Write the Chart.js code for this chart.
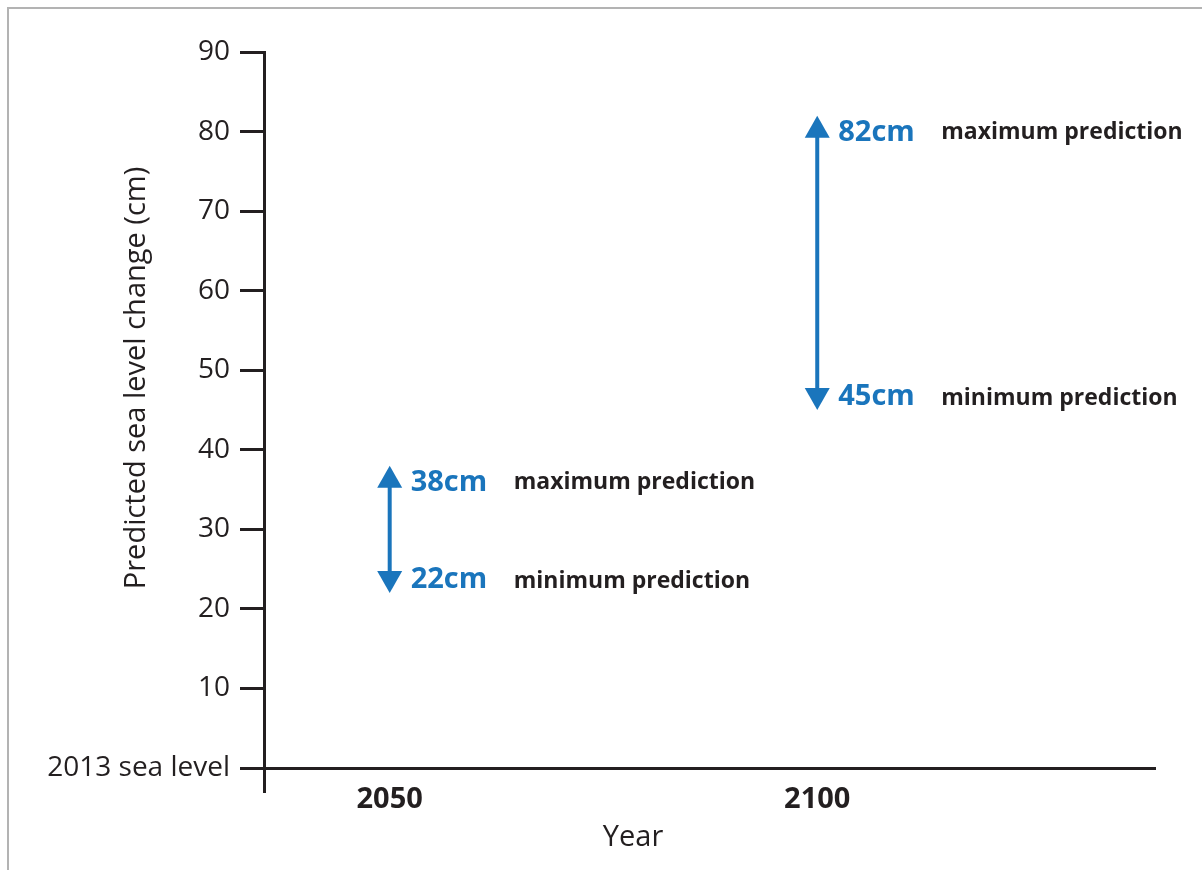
<!DOCTYPE html>
<html>
<head>
<meta charset="utf-8">
<title>Predicted sea level change</title>
<script src="https://cdn.jsdelivr.net/npm/chart.js@4.4.1/dist/chart.umd.min.js"></script>
<style>
  html, body { margin: 0; padding: 0; background: #fff; }
  #wrap { position: relative; width: 1202px; height: 870px; }
  #frame { position: absolute; left: 7px; top: 7px; right: 0; bottom: 0;
           border-top: 2px solid #b3b3b3; border-left: 2px solid #b3b3b3; }
  canvas { position: absolute; left: 0; top: 0; }
</style>
</head>
<body>
<div id="wrap">
  <div id="frame"></div>
  <canvas id="myChart" width="1202" height="870"></canvas>
</div>
<script>
// data
const years = [2050, 2100];
const minPrediction = [22, 45];
const maxPrediction = [38, 82];
const yTickValues = [0, 10, 20, 30, 40, 50, 60, 70, 80, 90];
const baseLabel = '2013 sea level';
const maxText = 'maximum prediction';
const minText = 'minimum prediction';
const xTitle = 'Year';
const yTitle = 'Predicted sea level change (cm)';

const dark = '#231f20';
const blue = '#1a75bc';
const font = '"Open Sans", "Noto Sans", sans-serif';

const X_MIN = 2035.3;
const X_MAX = 2139.5;

// arrows + labels, placed with the chart's own scales
const arrowPlugin = {
    id: 'arrows',
    afterDatasetsDraw(chart) {
        const c = chart.ctx;
        const headW = 25, headH = 22;
        chart.data.datasets.forEach((ds, i) => {
            const pts = chart.getDatasetMeta(i).data;
            const x = pts[0].x;
            const yLow = pts[0].y;
            const yHigh = pts[1].y;
            c.save();
            c.strokeStyle = blue;
            c.fillStyle = blue;
            c.lineWidth = 4;
            c.beginPath();
            c.moveTo(x, yLow - headH + 1);
            c.lineTo(x, yHigh + headH - 1);
            c.stroke();

            c.beginPath();
            c.moveTo(x, yHigh);
            c.lineTo(x - headW / 2, yHigh + headH);
            c.lineTo(x + headW / 2, yHigh + headH);
            c.closePath();
            c.fill();

            c.beginPath();
            c.moveTo(x, yLow);
            c.lineTo(x - headW / 2, yLow - headH);
            c.lineTo(x + headW / 2, yLow - headH);
            c.closePath();
            c.fill();

            c.textAlign = 'left';
            c.textBaseline = 'middle';
            c.font = 'bold 29px ' + font;
            c.fillText(maxPrediction[i] + 'cm', x + 21, yHigh + 17);
            c.fillText(minPrediction[i] + 'cm', x + 21, yLow - 13);

            c.fillStyle = dark;
            c.font = 'bold 23px ' + font;
            c.fillText(maxText, x + 124, yHigh + 17);
            c.fillText(minText, x + 124, yLow - 12);
            c.restore();
        });
    }
};

// axis titles sit off-centre in the original, so draw them here
const titlePlugin = {
    id: 'titles',
    afterDraw(chart) {
        const c = chart.ctx;
        const area = chart.chartArea;
        c.save();
        c.fillStyle = dark;
        c.font = '29px ' + font;
        c.textAlign = 'center';
        c.textBaseline = 'middle';
        c.fillText(xTitle, area.left + 369, area.bottom + 70);
        c.translate(137, area.top + 326);
        c.rotate(-Math.PI / 2);
        c.fillText(yTitle, 0, 0);
        c.restore();
    }
};

const ctx = document.getElementById('myChart');

const myChart = new Chart(ctx, {
    type: 'line',
    data: {
        datasets: years.map((yr, i) => ({
            data: [{x: yr, y: minPrediction[i]}, {x: yr, y: maxPrediction[i]}],
            showLine: false,
            pointRadius: 0,
            borderColor: blue
        }))
    },
    options: {
        responsive: false,
        animation: false,
        layout: { padding: { left: 0, top: 52, right: 47, bottom: 0 } },
        plugins: {
            legend: { display: false },
            tooltip: { enabled: false }
        },
        scales: {
            x: {
                type: 'linear',
                min: X_MIN,
                max: X_MAX,
                afterBuildTicks: (scale) => {
                    scale.ticks = [X_MIN].concat(years).map(v => ({ value: v }));
                },
                afterFit: (scale) => { scale.height = 102; },
                border: { display: true, color: dark, width: 3 },
                grid: {
                    drawOnChartArea: false,
                    drawTicks: true,
                    tickLength: 25,
                    tickWidth: 3,
                    tickColor: (c) => c.index === 0 ? dark : 'rgba(0,0,0,0)'
                },
                ticks: {
                    autoSkip: false,
                    maxRotation: 0,
                    padding: -11,
                    color: dark,
                    font: { family: font, size: 29, weight: 'bold' },
                    callback: (v, idx) => idx === 0 ? '' : String(v)
                }
            },
            y: {
                min: 0,
                max: 90,
                afterBuildTicks: (scale) => {
                    scale.ticks = yTickValues.map(v => ({ value: v }));
                },
                afterFit: (scale) => { scale.width = 264; },
                border: { display: true, color: dark, width: 3 },
                grid: {
                    drawOnChartArea: false,
                    drawTicks: true,
                    tickLength: 24,
                    tickWidth: 3,
                    tickColor: dark
                },
                ticks: {
                    padding: 10,
                    color: dark,
                    font: { family: font, size: 28 },
                    callback: (v) => v === 0 ? baseLabel : String(v)
                }
            }
        }
    },
    plugins: [arrowPlugin, titlePlugin]
});
</script>
</body>
</html>
